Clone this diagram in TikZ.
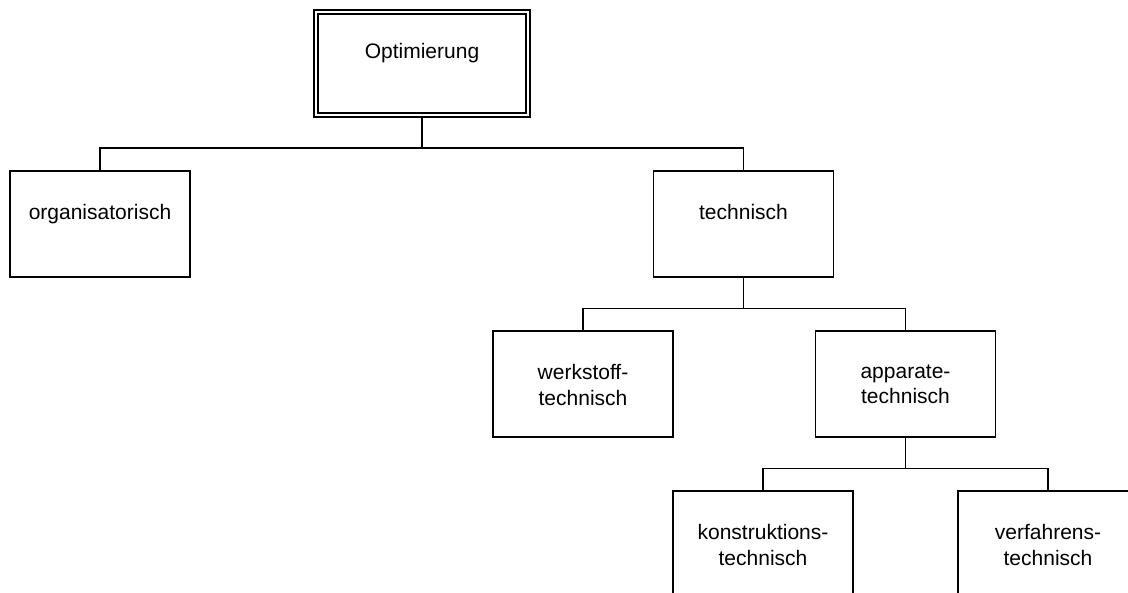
\documentclass[tikz,border=0pt]{standalone}
\usepackage{fontspec}
\setmainfont{Liberation Sans}
\begin{document}
\begin{tikzpicture}[x=1pt,y=-1pt,
  box/.style={draw,line width=1.2pt,rectangle,inner sep=0pt,minimum width=180pt,minimum height=106pt},
  lbl/.style={anchor=north,inner sep=0pt,align=center,font=\fontsize{21}{25.5}\selectfont},
  conn/.style={line width=1.2pt}]
\useasboundingbox (0,0) rectangle (1128,593);
\clip (0,0) rectangle (1128,593);
\node[box,double,double distance=2.8pt,minimum width=212pt,minimum height=103pt] (opt) at (422,63.5) {};
\node[box] (org) at (100,224) {};
\node[box] (tech) at (743.5,224) {};
\node[box] (werk) at (583,384) {};
\node[box] (app) at (905.5,384) {};
\node[box] (kon) at (763,544) {};
\node[box] (verf) at (1048,544) {};
\node[lbl] (toptxt) at ([yshift=-32pt]opt.north) {Optimierung};
\node[lbl] (orgtxt) at ([yshift=-34pt]org.north) {organisatorisch};
\node[lbl] (techtxt) at ([yshift=-34pt]tech.north) {technisch};
\node[lbl] (werktxt) at ([yshift=-34pt]werk.north) {werkstoff-\\technisch};
\node[lbl] (apptxt) at ([yshift=-34pt]app.north) {apparate-\\technisch};
\node[lbl] (kontxt) at ([yshift=-34pt]kon.north) {konstruktions-\\technisch};
\node[lbl] (verftxt) at ([yshift=-34pt]verf.north) {verfahrens-\\technisch};
\draw[conn] ([yshift=-1.5pt]opt.south) -- ++(0,31) -| (org.north);
\draw[conn] ([yshift=-1.5pt]opt.south) -- ++(0,31) -| (tech.north);
\draw[conn] (tech.south) -- ++(0,31) -| (werk.north);
\draw[conn] (tech.south) -- ++(0,31) -| (app.north);
\draw[conn] (app.south) -- ++(0,31) -| (kon.north);
\draw[conn] (app.south) -- ++(0,31) -| (verf.north);
\end{tikzpicture}
\end{document}
